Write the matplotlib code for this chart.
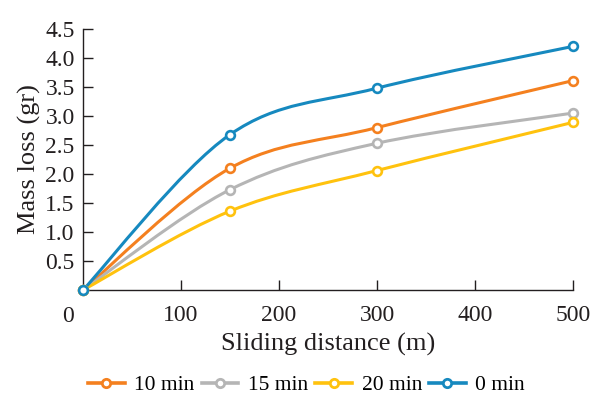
import matplotlib
matplotlib.use("Agg")
import matplotlib.pyplot as plt
from matplotlib.path import Path
from matplotlib.patches import PathPatch
from matplotlib.lines import Line2D
import numpy as np

plt.rcParams['font.family'] = ['Liberation Serif', 'DejaVu Serif']

distance = [0, 150, 300, 500]
series_names = ["10 min", "15 min", "20 min", "0 min"]
loss_10 = [0, 2.10, 2.80, 3.61]
loss_15 = [0, 1.73, 2.53, 3.05]
loss_20 = [0, 1.36, 2.06, 2.89]
loss_0 = [0, 2.68, 3.48, 4.20]
series_values = [loss_10, loss_15, loss_20, loss_0]
colors = ["#F4801F", "#B5B5B5", "#FFC20E", "#1689BF"]
x_ticks = [100, 200, 300, 400, 500]
y_ticks = [0.5, 1.0, 1.5, 2.0, 2.5, 3.0, 3.5, 4.0, 4.5]

TXT = '#231F20'


def smooth_path(xs, ys):
    pts = np.column_stack([xs, ys]).astype(float)
    n = len(pts)
    verts = [pts[0]]
    codes = [Path.MOVETO]
    for i in range(n - 1):
        p0 = pts[i - 1] if i > 0 else pts[i]
        p1 = pts[i]
        p2 = pts[i + 1]
        p3 = pts[i + 2] if i + 2 < n else pts[i + 1]
        c1 = p1 + (p2 - p0) / 6.0
        c2 = p2 - (p3 - p1) / 6.0
        verts += [c1, c2, p2]
        codes += [Path.CURVE4] * 3
    return Path(verts, codes)


fig = plt.figure(figsize=(5.93, 3.97), dpi=100)
ax = fig.add_axes([0.14, 0.2695, 0.8263, 0.6575])

for name, vals, c in zip(series_names, series_values, colors):
    patch = PathPatch(smooth_path(distance, vals), facecolor='none', edgecolor=c,
                      lw=2.2, clip_on=False, zorder=3)
    ax.add_patch(patch)
    ax.plot(distance, vals, linestyle='none', marker='o', ms=6.3, mfc='white',
            mec=c, mew=1.9, clip_on=False, zorder=4)

ax.set_xlim(0, 500)
ax.set_ylim(0, 4.5)
ax.set_xticks(x_ticks)
ax.set_yticks(y_ticks)
ax.set_yticklabels([f"{v:.1f}" for v in y_ticks])
ax.tick_params(direction='in', length=7, width=1, labelsize=17, colors=TXT)
ax.tick_params(axis='x', pad=11)
ax.tick_params(axis='y', pad=6)
for s in ['top', 'right']:
    ax.spines[s].set_visible(False)
for s in ['left', 'bottom']:
    ax.spines[s].set_linewidth(1.0)
    ax.spines[s].set_color(TXT)

ax.annotate("0", xy=(0, 0), xycoords='axes fraction', xytext=(-15, -16),
            textcoords='offset pixels', ha='center', va='top', fontsize=17,
            color=TXT)

ax.set_xlabel("Sliding distance (m)", fontsize=19, color=TXT, labelpad=5)
ax.set_ylabel("Mass loss (gr)", fontsize=19, color=TXT, labelpad=3)

handles = [Line2D([], [], color=c, lw=2.6, marker='o', ms=6, mfc='white', mec=c, mew=2)
           for c in colors]
fig.legend(handles, series_names, loc='center', bbox_to_anchor=(0.517, 0.03), ncol=4,
           frameon=False, fontsize=15.5, handlelength=1.7, handletextpad=0.45,
           columnspacing=0.33, borderpad=0.1)

fig.savefig("out.png", dpi=100)
